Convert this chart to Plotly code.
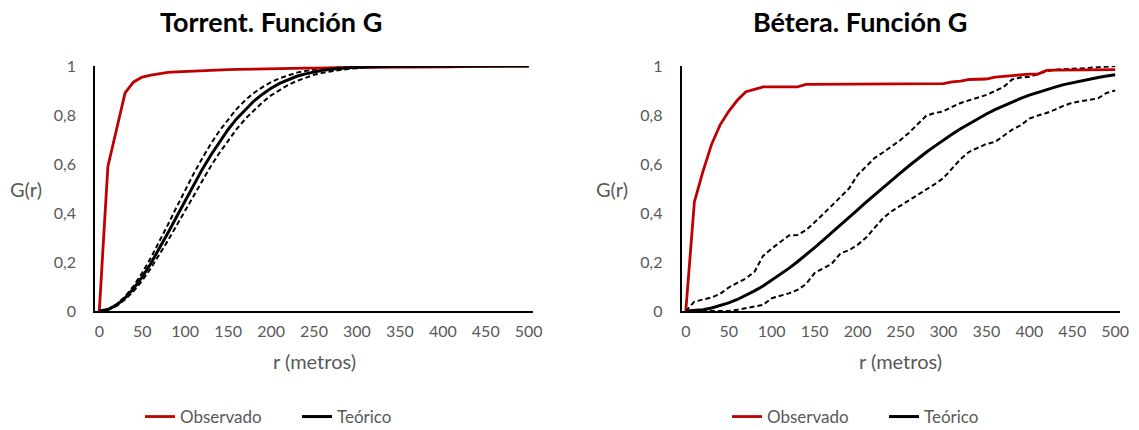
import plotly.graph_objects as go

r = list(range(0, 510, 10))

# Torrent
torrent_obs = [0, 0.59, 0.74, 0.89, 0.935, 0.955, 0.963, 0.97, 0.974, 0.976,
               0.978, 0.979, 0.981, 0.983, 0.984, 0.985, 0.986, 0.987, 0.987, 0.988,
               0.989, 0.989, 0.99, 0.99, 0.991, 0.991, 0.992, 0.992, 0.993, 0.993,
               0.994, 0.994, 0.994, 0.995, 0.995, 0.995, 0.996, 0.996, 0.996, 0.997,
               0.997, 0.997, 0.998, 0.998, 0.998, 0.999, 0.999, 1, 1, 1, 1]
torrent_teo = [0, 0.006, 0.024, 0.053, 0.092, 0.139, 0.194, 0.255, 0.319, 0.385,
               0.451, 0.516, 0.579, 0.637, 0.691, 0.741, 0.785, 0.823, 0.857, 0.885,
               0.909, 0.929, 0.945, 0.958, 0.968, 0.976, 0.983, 0.987, 0.991, 0.993,
               0.995, 0.997, 0.998, 0.998, 0.999, 0.999, 0.999, 1, 1, 1,
               1, 1, 1, 1, 1, 1, 1, 1, 1, 1, 1]
torrent_sup = [0, 0.007, 0.027, 0.059, 0.103, 0.156, 0.217, 0.283, 0.353, 0.424,
               0.493, 0.561, 0.624, 0.683, 0.736, 0.783, 0.825, 0.86, 0.89, 0.914,
               0.934, 0.95, 0.963, 0.973, 0.98, 0.986, 0.99, 0.993, 0.995, 0.997,
               0.998, 0.999, 0.999, 1, 1, 1, 1, 1, 1, 1,
               1, 1, 1, 1, 1, 1, 1, 1, 1, 1, 1]
torrent_inf = [0, 0.005, 0.021, 0.047, 0.081, 0.124, 0.174, 0.229, 0.288, 0.349,
               0.411, 0.473, 0.534, 0.592, 0.646, 0.697, 0.743, 0.784, 0.82, 0.852,
               0.88, 0.903, 0.923, 0.939, 0.953, 0.964, 0.972, 0.979, 0.984, 0.988,
               0.992, 0.994, 0.996, 0.997, 0.998, 0.998, 0.999, 0.999, 0.999, 1,
               1, 1, 1, 1, 1, 1, 1, 1, 1, 1, 1]

# Bétera
betera_obs = [0, 0.445, 0.57, 0.68, 0.76, 0.815, 0.86, 0.895, 0.905, 0.915,
              0.915, 0.915, 0.915, 0.915, 0.925, 0.925, 0.925, 0.925, 0.928, 0.928,
              0.928, 0.928, 0.928, 0.928, 0.928, 0.928, 0.928, 0.928, 0.928, 0.928,
              0.928, 0.935, 0.938, 0.945, 0.945, 0.947, 0.955, 0.958, 0.962, 0.965,
              0.967, 0.967, 0.982, 0.983, 0.983, 0.984, 0.984, 0.984, 0.985, 0.985, 0.985]
betera_teo = [0, 0.001, 0.005, 0.012, 0.021, 0.033, 0.047, 0.063, 0.082, 0.102,
              0.125, 0.149, 0.174, 0.201, 0.229, 0.259, 0.289, 0.319, 0.35, 0.381,
              0.413, 0.444, 0.475, 0.505, 0.535, 0.564, 0.593, 0.621, 0.648, 0.673,
              0.698, 0.721, 0.744, 0.765, 0.785, 0.804, 0.822, 0.838, 0.853, 0.868,
              0.881, 0.893, 0.904, 0.914, 0.924, 0.932, 0.94, 0.947, 0.953, 0.959, 0.964]
betera_sup = [0, 0.038, 0.047, 0.055, 0.07, 0.096, 0.115, 0.133, 0.16, 0.225,
              0.255, 0.283, 0.308, 0.31, 0.33, 0.362, 0.398, 0.43, 0.465, 0.5,
              0.555, 0.59, 0.625, 0.648, 0.672, 0.698, 0.728, 0.762, 0.797, 0.808,
              0.815, 0.833, 0.849, 0.86, 0.87, 0.882, 0.898, 0.914, 0.945, 0.953,
              0.956, 0.967, 0.978, 0.985, 0.988, 0.989, 0.99, 0.992, 0.995, 0.998, 1.0]
betera_inf = [0, 0, 0, 0, 0, 0, 0.005, 0.012, 0.018, 0.025,
              0.052, 0.062, 0.072, 0.086, 0.11, 0.155, 0.175, 0.193, 0.235, 0.248,
              0.27, 0.3, 0.34, 0.38, 0.408, 0.43, 0.45, 0.475, 0.497, 0.518,
              0.543, 0.58, 0.62, 0.65, 0.666, 0.682, 0.69, 0.715, 0.74, 0.758,
              0.785, 0.798, 0.808, 0.822, 0.838, 0.85, 0.856, 0.862, 0.868, 0.89, 0.9]

titles = ["Torrent. Función G", "Bétera. Función G"]
x_title = "r (metros)"
y_title = "G(r)"
x_ticks = list(range(0, 550, 50))
y_ticks = [0, 0.2, 0.4, 0.6, 0.8, 1]
y_ticktext = ["0", "0,2", "0,4", "0,6", "0,8", "1"]

RED = "#C00000"
BLACK = "#000000"
GRAY = "#595959"
FONT = "Lato"
W, H = 1139, 430

fig = go.Figure()

panels = [
    ("x", "y", "legend", torrent_obs, torrent_teo, torrent_sup, torrent_inf),
    ("x2", "y2", "legend2", betera_obs, betera_teo, betera_sup, betera_inf),
]
for xa, ya, leg, obs, teo, sup, inf in panels:
    for yy in (sup, inf):
        fig.add_trace(go.Scatter(x=r, y=yy, xaxis=xa, yaxis=ya, mode="lines",
                                 line=dict(color=BLACK, width=2.0, dash="5px,3px"),
                                 showlegend=False, hoverinfo="skip"))
    fig.add_trace(go.Scatter(x=r, y=obs, xaxis=xa, yaxis=ya, mode="lines", name="Observado",
                             line=dict(color=RED, width=2.8), legend=leg))
    fig.add_trace(go.Scatter(x=r, y=teo, xaxis=xa, yaxis=ya, mode="lines", name="Teórico",
                             line=dict(color=BLACK, width=3), legend=leg))

# domains from pixel positions
xd1 = [95 / W, 533 / W]
xd2 = [681.5 / W, 1119.5 / W]
yd = [1 - 311 / H, 1 - 66 / H]

axis_common = dict(showgrid=False, zeroline=False, showline=True, linecolor=BLACK, linewidth=1.6,
                   tickfont=dict(family=FONT, size=16, color=GRAY), ticks="outside",
                   tickcolor="rgba(0,0,0,0)", automargin=False)
legend_common = dict(orientation="h", xanchor="left", y=1 - 417 / H, yanchor="middle",
                     font=dict(family=FONT, size=17, color=GRAY), itemwidth=30,
                     entrywidth=112, entrywidthmode="pixels", bgcolor="rgba(0,0,0,0)")
fig.update_layout(
    width=W, height=H, margin=dict(l=0, r=0, t=0, b=0, autoexpand=False),
    paper_bgcolor="white", plot_bgcolor="white",
    xaxis=dict(domain=xd1, range=[-5, 505], tickvals=x_ticks, ticklen=5, anchor="y", **axis_common),
    yaxis=dict(domain=yd, range=[0, 1], tickvals=y_ticks, ticktext=y_ticktext, ticklen=14, anchor="x",
               **axis_common),
    xaxis2=dict(domain=xd2, range=[-5, 505], tickvals=x_ticks, ticklen=5, anchor="y2", **axis_common),
    yaxis2=dict(domain=yd, range=[0, 1], tickvals=y_ticks, ticktext=y_ticktext, ticklen=14, anchor="x2",
                **axis_common),
    legend=dict(x=140 / W, **legend_common),
    legend2=dict(x=727 / W, **legend_common),
    hovermode=False,
)

annotations = []
for cx, t in zip([271, 860], titles):
    annotations.append(dict(text="<b>%s</b>" % t, x=cx / W, y=1 - 22 / H, xref="paper", yref="paper",
                            xanchor="center", yanchor="middle", showarrow=False,
                            font=dict(family=FONT, size=27, color="#000000")))
for cx in [314, 900.5]:
    annotations.append(dict(text=x_title, x=cx / W, y=1 - 361 / H, xref="paper", yref="paper",
                            xanchor="center", yanchor="middle", showarrow=False,
                            font=dict(family=FONT, size=20, color=GRAY)))
for rx in [44, 630.5]:
    annotations.append(dict(text=y_title, x=rx / W, y=1 - 189 / H, xref="paper", yref="paper",
                            xanchor="right", yanchor="middle", showarrow=False,
                            font=dict(family=FONT, size=20, color=GRAY)))
fig.update_layout(annotations=annotations)

fig.write_html("out.html")
